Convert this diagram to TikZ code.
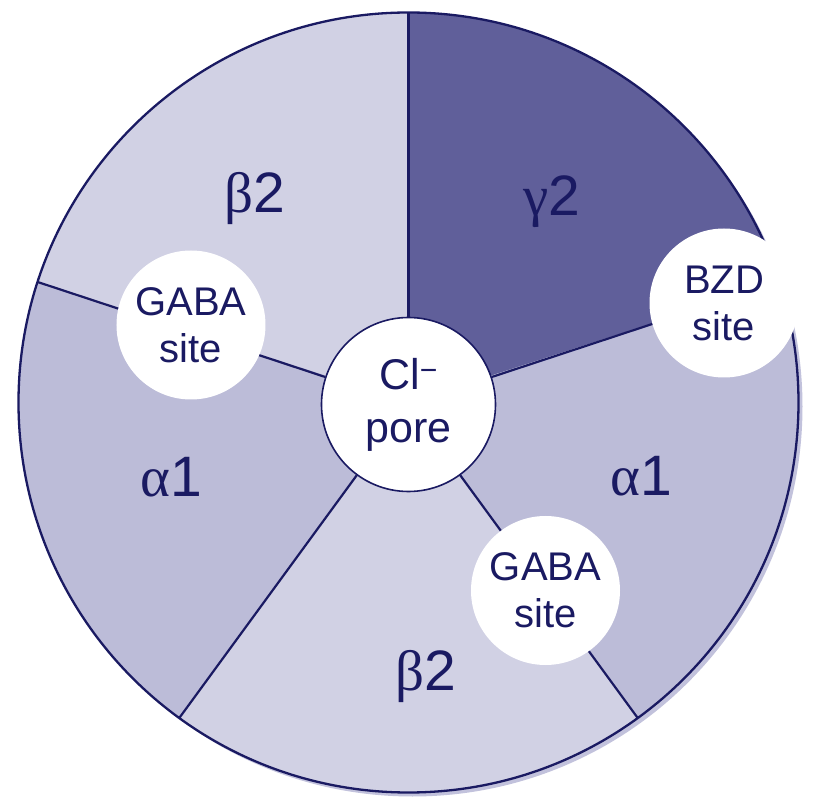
\documentclass[tikz,border=0pt]{standalone}
\usepackage{fontspec}
\setmainfont{Liberation Sans}
\newfontfamily\greekfont{Liberation Serif}
\definecolor{lightsub}{HTML}{D1D1E4}
\definecolor{midsub}{HTML}{BCBCD8}
\definecolor{darksub}{HTML}{605F9A}
\definecolor{navy}{HTML}{1A1A62}
\definecolor{shadowc}{HTML}{C2C2DC}
\begin{document}
\begin{tikzpicture}[x=1pt,y=1pt,
  rim/.style={draw=navy,line width=2.3pt},
  divider/.style={draw=navy,line width=2.2pt},
  porenode/.style={circle,fill=white,draw=navy,line width=1.6pt,minimum size=174pt,inner sep=0pt,
     align=center,text=navy,font=\fontsize{43}{53}\selectfont},
  sitenode/.style={circle,fill=white,minimum size=149pt,inner sep=0pt,
     align=center,text=navy,font=\fontsize{40}{47}\selectfont},
  sublabel/.style={anchor=base,text=navy,inner sep=0pt,font=\fontsize{57}{66}\selectfont}]
\useasboundingbox (-408.5,-394.5) rectangle (405.5,402.5);
% shadow
\fill[shadowc] (4,-4) circle (390);
% sectors
\fill[darksub]  (0,0) -- (18:390)  arc[start angle=18, end angle=90, radius=390] -- cycle;
\fill[lightsub] (0,0) -- (90:390)  arc[start angle=90, end angle=162,radius=390] -- cycle;
\fill[midsub]   (0,0) -- (162:390) arc[start angle=162,end angle=234,radius=390] -- cycle;
\fill[lightsub] (0,0) -- (234:390) arc[start angle=234,end angle=306,radius=390] -- cycle;
\fill[midsub]   (0,0) -- (306:390) arc[start angle=306,end angle=378,radius=390] -- cycle;
% rim points
\coordinate (o18)  at (18:390);
\coordinate (o90)  at (90:390);
\coordinate (o162) at (162:390);
\coordinate (o234) at (234:390);
\coordinate (o306) at (306:390);
% central pore
\node[porenode] (pore) at (0,-2) {Cl\textsuperscript{−}\\pore};
% dividers
\draw[divider] (pore) -- (o18);
\draw[divider] (pore) -- (o90);
\draw[divider] (pore) -- (o162);
\draw[divider] (pore) -- (o234);
\draw[divider] (pore) -- (o306);
% outer rim
\draw[rim] (0,0) circle (390);
% binding sites
\node[sitenode] (gabaL) at (-217.5,77.5)  {GABA\\site};
\node[sitenode] (gabaR) at (137,-188)     {GABA\\site};
\node[sitenode] (bzd)   at (315.5,99.5)   {BZD\\site};
% subunit labels
\node[sublabel] (b2top) at (-153.5,189.5) {{\greekfont β}2};
\node[sublabel] (g2)    at (143,187)      {{\greekfont γ}2};
\node[sublabel] (a1L)   at (-237,-94.5)   {{\greekfont α}1};
\node[sublabel] (a1R)   at (233,-93)      {{\greekfont α}1};
\node[sublabel] (b2bot) at (17,-288)      {{\greekfont β}2};
\end{tikzpicture}
\end{document}
